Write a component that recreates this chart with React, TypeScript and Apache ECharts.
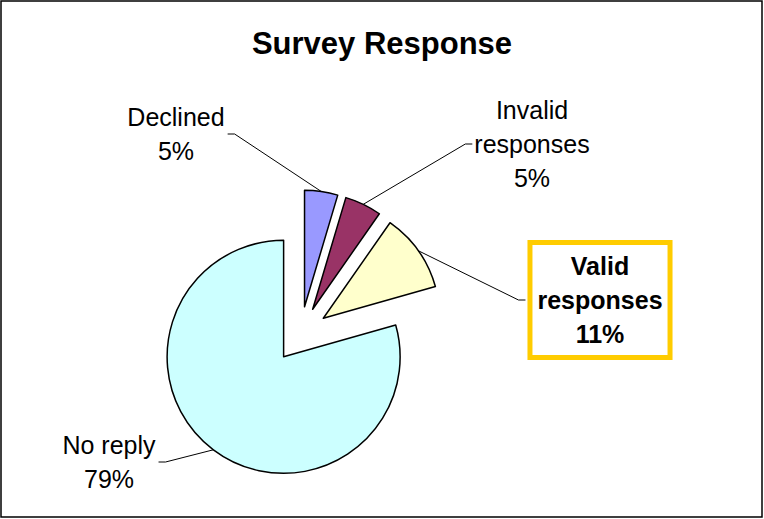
import React, { useEffect, useRef } from "react";
import * as echarts from "echarts";

const categories = ["Declined", "Invalid responses", "Valid responses", "No reply"];
const values = [4.6, 5.1, 10.9, 79.4];
const labelNames = ["Declined", "Invalid\nresponses", "Valid\nresponses", "No reply"];
const colors = ["#9999FF", "#993366", "#FFFFCC", "#CCFFFF"];
const title = "Survey Response";

// label centre positions (layout only)
const labelPos: [number, number][] = [
  [176, 134],
  [532, 144],
  [600, 300],
  [109, 462],
];

const FONT = 'Arial, "Liberation Sans", Helvetica, sans-serif';
const OFFSET = 28;
const CENTER = [300.5, 334.5];
const RADIUS = 116.5;

export default function App() {
  const ref = useRef<HTMLDivElement>(null);
  useEffect(() => {
    if (!ref.current) return;
    const chart = echarts.init(ref.current, null, { renderer: "svg" });
    const total = values.reduce((a, b) => a + b, 0);
    const midAngles: number[] = [];
    let cum = 0;
    values.forEach((v) => {
      midAngles.push(((cum + v / 2) / total) * Math.PI * 2);
      cum += v;
    });

    const sliceData = categories.map((name, i) => ({
      name,
      value: values[i],
      selected: true,
      itemStyle: { color: colors[i] },
    }));

    const labelData = categories.map((name, i) => {
      const item: any = { name, value: values[i] };
      if (i === 2) {
        item.label = {
          fontWeight: "bold",
          backgroundColor: "#ffffff",
          borderColor: "#FFCC00",
          borderWidth: 5,
          padding: [4, 5],
        };
      }
      return item;
    });

    chart.setOption({
      animation: false,
      backgroundColor: "#ffffff",
      title: {
        text: title,
        left: "center",
        top: 20,
        textStyle: {
          fontFamily: FONT,
          fontSize: 31,
          fontWeight: "bold",
          color: "#000",
          lineHeight: 36,
        },
      },
      graphic: [
        {
          type: "rect",
          shape: { x: 1, y: 1, width: 761, height: 516 },
          style: { fill: "none", stroke: "#000", lineWidth: 1.5 },
          silent: true,
        },
      ],
      series: [
        {
          type: "pie",
          z: 2,
          center: CENTER,
          radius: RADIUS,
          startAngle: 90,
          clockwise: true,
          selectedMode: "multiple",
          selectedOffset: OFFSET,
          emphasis: { disabled: true },
          itemStyle: { borderColor: "#000", borderWidth: 1.5 },
          label: { show: false },
          labelLine: { show: false },
          data: sliceData,
        },
        {
          type: "pie",
          z: 3,
          silent: true,
          center: CENTER,
          radius: RADIUS,
          startAngle: 90,
          clockwise: true,
          emphasis: { disabled: true },
          itemStyle: { color: "rgba(0,0,0,0)", borderWidth: 0 },
          label: {
            show: true,
            position: "outside",
            color: "#000",
            fontFamily: FONT,
            fontSize: 25,
            lineHeight: 34,
            align: "center",
            formatter: (p: any) => `${labelNames[p.dataIndex]}\n${Math.round(p.percent)}%`,
          },
          labelLine: {
            show: true,
            length: 20,
            length2: 8,
            lineStyle: { color: "#000", width: 1 },
          },
          labelLayout: (p: any) => {
            const i = p.dataIndex;
            const [lx, ly] = labelPos[i];
            const w = p.labelRect.width;
            const a = midAngles[i];
            const dx = Math.sin(a);
            const dy = -Math.cos(a);
            const a0 = p.labelLinePoints
              ? p.labelLinePoints[0]
              : [CENTER[0] + RADIUS * dx, CENTER[1] + RADIUS * dy];
            const start = [a0[0] + OFFSET * dx, a0[1] + OFFSET * dy];
            const left = lx < start[0];
            const endX = left ? lx + w / 2 + 3 : lx - w / 2 - 2;
            const end = [endX, ly];
            const bend = [left ? endX + 7 : endX - 7, ly];
            return {
              x: lx,
              y: ly,
              align: "center",
              verticalAlign: "middle",
              labelLinePoints: [start, bend, end],
            };
          },
          data: labelData,
        },
      ],
    });
    return () => chart.dispose();
  }, []);
  return (
    <div
      ref={ref}
      style={{ position: "fixed", left: 0, top: 0, width: 764, height: 519 }}
    />
  );
}
